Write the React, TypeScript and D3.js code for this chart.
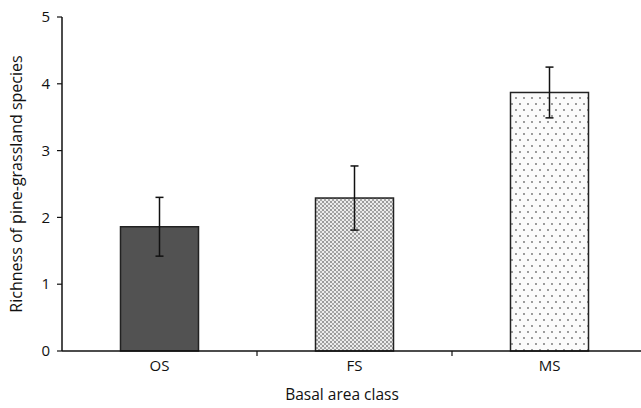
import React from "react";
import * as d3 from "d3";

const categories = ["OS", "FS", "MS"];
const means = [1.86, 2.29, 3.87];
const errors = [0.44, 0.48, 0.38];
const yTicks = [0, 1, 2, 3, 4, 5];
const fills = ["#525252", "url(#checker)", "url(#dots)"];

const W = 641;
const H = 408;
const M = { top: 17, right: 0, bottom: 57, left: 62 };

export default function App() {
  const innerW = W - M.left - M.right;
  const innerH = H - M.top - M.bottom;

  const x = d3.scaleBand<string>().domain(categories).range([0, 585]).padding(0);
  const y = d3.scaleLinear().domain([0, 5]).range([innerH, 0]);
  const barW = x.bandwidth() * 0.4;
  const font = "Open Sans, Noto Sans, sans-serif";

  return (
    <svg width={W} height={H} style={{ position: "absolute", left: 0, top: 0 }}>
      <defs>
        <pattern id="checker" width={4} height={4} patternUnits="userSpaceOnUse">
          <rect width={4} height={4} fill="#ececec" />
          <rect width={2} height={2} fill="#9a9a9a" />
          <rect x={2} y={2} width={2} height={2} fill="#a8a8a8" />
        </pattern>
        <pattern id="dots" width={8} height={12} patternUnits="userSpaceOnUse">
          <rect width={8} height={12} fill="#fbfbfb" />
          <circle cx={2} cy={3} r={0.9} fill="#6f6f6f" />
          <circle cx={6} cy={9} r={0.9} fill="#6f6f6f" />
        </pattern>
      </defs>
      <g transform={`translate(${M.left},${M.top})`}>
        {categories.map((c, i) => {
          const cx = (x(c) ?? 0) + x.bandwidth() / 2;
          return (
            <g key={c}>
              <rect
                x={cx - barW / 2}
                y={y(means[i])}
                width={barW}
                height={innerH - y(means[i])}
                fill={fills[i]}
                stroke="#222"
                strokeWidth={1.5}
              />
              <line x1={cx} x2={cx} y1={y(means[i] + errors[i])} y2={y(means[i] - errors[i])} stroke="#111" strokeWidth={1.5} />
              <line x1={cx - 4} x2={cx + 4} y1={y(means[i] + errors[i])} y2={y(means[i] + errors[i])} stroke="#111" strokeWidth={1.5} />
              <line x1={cx - 4} x2={cx + 4} y1={y(means[i] - errors[i])} y2={y(means[i] - errors[i])} stroke="#111" strokeWidth={1.5} />
              <text x={cx} y={innerH + 20} textAnchor="middle" fontFamily={font} fontSize={15} fill="#111">
                {c}
              </text>
            </g>
          );
        })}
        {/* category separator ticks */}
        {categories.map((c) => (
          <line key={c} x1={(x(c) ?? 0) + x.bandwidth()} x2={(x(c) ?? 0) + x.bandwidth()} y1={innerH} y2={innerH + 5} stroke="#111" strokeWidth={1.2} />
        ))}
        <line x1={0} x2={innerW} y1={innerH} y2={innerH} stroke="#111" strokeWidth={1.5} />
        <line x1={0} x2={0} y1={0} y2={innerH} stroke="#111" strokeWidth={1.5} />
        {yTicks.map((t) => (
          <g key={t} transform={`translate(0,${y(t)})`}>
            <line x1={-5} x2={0} stroke="#111" strokeWidth={1.2} />
            <text x={-12} dy="0.35em" textAnchor="end" fontFamily={font} fontSize={15} fill="#111">
              {t}
            </text>
          </g>
        ))}
      </g>
      <text
        transform={`translate(22,${M.top + innerH / 2}) rotate(-90)`}
        textAnchor="middle"
        fontFamily={font}
        fontSize={16}
        fill="#111"
      >
        Richness of pine-grassland species
      </text>
      <text x={342} y={400} textAnchor="middle" fontFamily={font} fontSize={15.5} fill="#111">
        Basal area class
      </text>
    </svg>
  );
}
